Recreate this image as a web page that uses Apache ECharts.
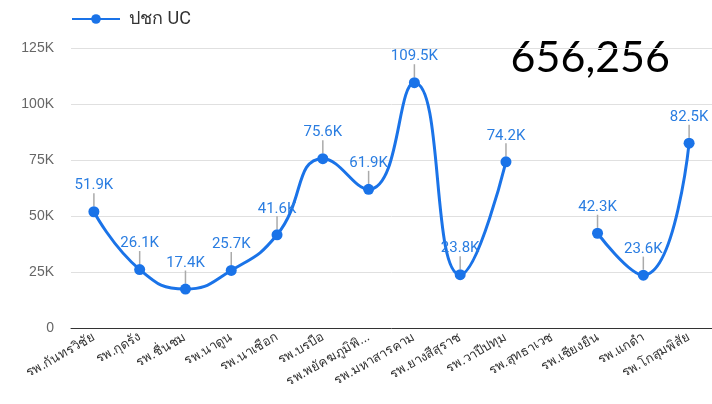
<!DOCTYPE html>
<html>
<head>
<meta charset="utf-8">
<script src="https://cdn.jsdelivr.net/npm/echarts@6/dist/echarts.min.js"></script>
<style>
  html, body { margin: 0; padding: 0; background: #fff; }
  #main { width: 712px; height: 404px; }
</style>
</head>
<body>
<div id="main"></div>
<script>
const categories = [
  'รพ.กันทรวิชัย', 'รพ.กุดรัง', 'รพ.ชื่นชม', 'รพ.นาดูน', 'รพ.นาเชือก',
  'รพ.บรบือ', 'รพ.พยัคฆภูมิพิสัย', 'รพ.มหาสารคาม', 'รพ.ยางสีสุราช', 'รพ.วาปีปทุม',
  'รพ.สุทธาเวช', 'รพ.เชียงยืน', 'รพ.แกดำ', 'รพ.โกสุมพิสัย'
]
// ปชก UC per hospital (null = no data)
const ucValues = [51900, 26100, 17400, 25700, 41600, 75600, 61900, 109500, 23800, 74200, null, 42300, 23600, 82500]
const totalText = '656,256'
const yTicks = [0, 25000, 50000, 75000, 100000, 125000]

const BLUE = '#1a73e8'

const chart = echarts.init(document.getElementById('main'), null, { renderer: 'canvas' })

const fmtK = (v) => (v === 0 ? '0' : (v / 1000) + 'K')

const option = {
  animation: false,
  legend: {
    left: 66,
    top: 5,
    itemWidth: 48,
    itemHeight: 12,
    textStyle: { fontSize: 18, color: '#333', fontFamily: 'Roboto, sans-serif', padding: [0, 0, 0, 4] },
    data: ['ปชก UC']
  },
  grid: { left: 71, width: 644, top: 48, bottom: 76 },
  graphic: [
    {
      type: 'text',
      right: 42,
      top: 37,
      style: {
        text: totalText,
        font: '43px Lato, sans-serif',
        fill: '#000'
      }
    }
  ],
  xAxis: {
    type: 'category',
    data: categories,
    boundaryGap: true,
    axisTick: { show: false },
    axisLine: { lineStyle: { color: '#333', width: 1 } },
    axisLabel: {
      interval: 0,
      rotate: 30,
      fontSize: 13,
      color: '#333',
      margin: 8,
      formatter: (v) => (v.length > 15 ? v.slice(0, 14) + '...' : v)
    }
  },
  yAxis: {
    type: 'value',
    min: yTicks[0],
    max: yTicks[yTicks.length - 1],
    interval: 25000,
    axisLine: { show: false },
    axisTick: { show: false },
    splitLine: { lineStyle: { color: '#e0e0e0' } },
    axisLabel: { fontSize: 14, color: '#666', margin: 17, formatter: fmtK }
  },
  series: [
    {
      name: 'ปชก UC',
      type: 'line',
      data: ucValues,
      smooth: 0.5,
      connectNulls: false,
      symbol: 'circle',
      symbolSize: 11,
      lineStyle: { color: BLUE, width: 3 },
      itemStyle: { color: BLUE },
      label: {
        show: true,
        position: 'top',
        distance: 4,
        color: '#2a7de1',
        fontSize: 15,
        fontFamily: 'Roboto, sans-serif',
        formatter: (p) => (p.value / 1000).toFixed(1) + 'K'
      },
      labelLayout: { dy: -9 },
      labelLine: { show: true, lineStyle: { color: '#aaa', width: 1.5 } }
    }
  ]
}

chart.setOption(option)
</script>
</body>
</html>
